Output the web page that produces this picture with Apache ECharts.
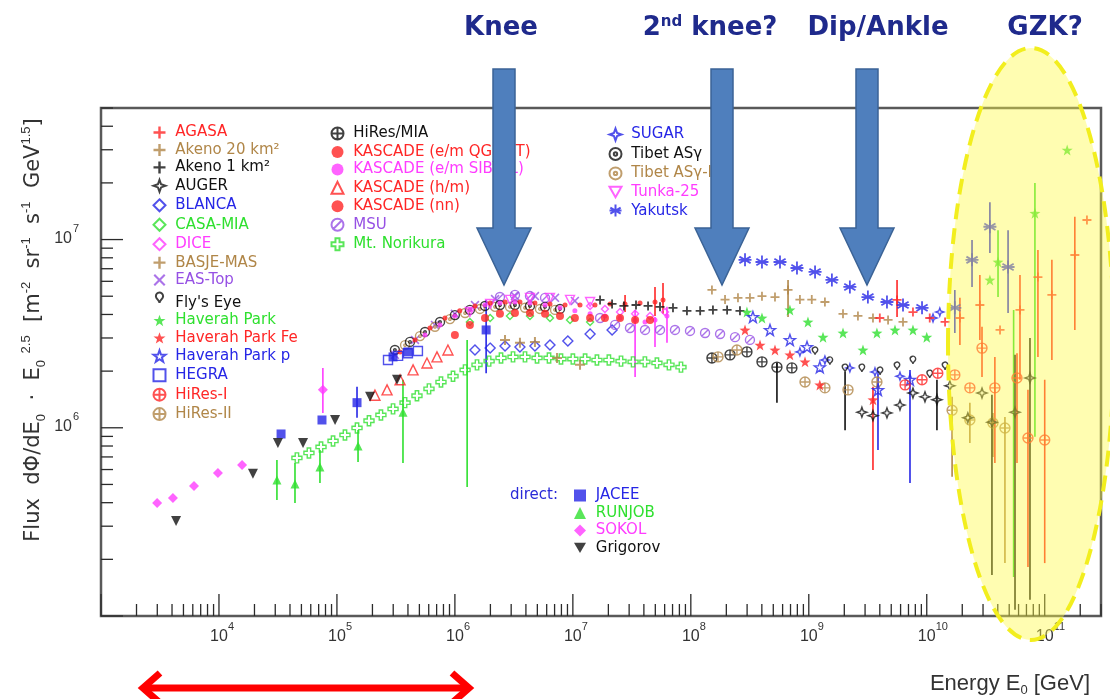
<!DOCTYPE html>
<html>
<head>
<meta charset="utf-8">
<script src="https://cdn.jsdelivr.net/npm/echarts@6/dist/echarts.min.js"></script>
<style>
  html, body { margin: 0; background: #fff; }
  #chart { width: 1110px; height: 699px; }
</style>
</head>
<body>
<div id="chart"></div>
<script>
// axis ranges and tick labels
const X_MIN = 1e3, X_MAX = 3e11, Y_MIN = 1e5, Y_MAX = 5e7;
const xMajorTicks = [1e3, 1e4, 1e5, 1e6, 1e7, 1e8, 1e9, 1e10, 1e11];
const xLabelValues = [1e4, 1e5, 1e6, 1e7, 1e8, 1e9, 1e10, 1e11];
const xLabelExps = ['4', '5', '6', '7', '8', '9', '10', '11'];
const yMajorTicks = [1e5, 1e6, 1e7];
const yLabelValues = [1e6, 1e7];
const yLabelExps = ['6', '7'];

// data: [E (GeV), flux*E^2.5]; errors: [E, low, high]
const agasa = [[4.0e9,3.83e6],[5.6e9,4.78e6],[7.64e9,4.12e6],[1.06e10,3.83e6],[1.43e10,3.65e6],[1.91e10,3.83e6],[2.82e10,4.49e6],[4.18e10,3.31e6],[6.17e10,4.23e6],[8.76e10,6.32e6],[1.15e11,5.08e6],[1.8e11,8.28e6],[2.28e11,1.27e7]];
const agasaErr = [[5.6e9,3.88e6,6.1e6],[1.91e10,2.75e6,4.9e6],[2.82e10,2.93e6,6.49e6],[6.17e10,1.8e6,6.49e6],[8.76e10,2.38e6,8.81e6],[1.15e11,2.29e6,7.8e6],[1.8e11,3.31e6,1.32e7]];
const akeno20 = [[1.51e8,5.4e6],[1.95e8,4.8e6],[2.51e8,4.9e6],[3.17e8,4.9e6],[4.01e8,5.0e6],[5.17e8,4.95e6],[6.67e8,5.4e6],[8.41e8,4.8e6],[1.06e9,4.8e6],[1.37e9,4.66e6],[1.95e9,4.03e6],[2.61e9,3.93e6],[3.5e9,3.83e6],[4.7e9,3.74e6],[6.29e9,3.65e6]];
const akeno20Err = [[6.67e8,3.88e6,6.1e6]];
const akeno1 = [[1.7e7,4.78e6],[2.15e7,4.55e6],[2.71e7,4.44e6],[3.43e7,4.49e6],[4.34e7,4.44e6],[5.48e7,4.39e6],[7.06e7,4.34e6],[9.27e7,4.18e6],[1.2e8,4.18e6],[1.54e8,4.23e6],[2.03e8,4.23e6],[2.61e8,4.18e6]];
const auger = [[2.82e9,1.21e6],[3.5e9,1.16e6],[4.6e9,1.2e6],[5.93e9,1.32e6],[7.64e9,1.53e6],[9.66e9,1.46e6],[1.22e10,1.41e6],[1.57e10,1.67e6],[2.23e10,1.13e6],[2.94e10,1.53e6],[3.57e10,1.07e6],[5.6e10,1.21e6],[7.5e10,1.84e6]];
const augerErr = [[1.22e10,9.7e5,1.8e6],[3.57e10,1.65e5,1.5e6],[5.6e10,1.08e5,2.44e6],[7.5e10,1.22e5,3.0e6]];
const blanca = [[1.48e6,2.59e6],[1.99e6,2.65e6],[2.66e6,2.72e6],[3.56e6,2.69e6],[4.77e6,2.72e6],[6.4e6,2.75e6],[9.07e6,2.89e6],[1.4e7,3.15e6],[2.15e7,3.31e6]];
const casaMia = [[1.34e6,3.65e6],[1.99e6,3.83e6],[2.93e6,3.93e6],[4.33e6,3.93e6],[6.4e6,3.83e6],[9.46e6,3.74e6],[1.4e7,3.65e6]];
const dice = [[1.4e7,4.44e6],[1.87e7,4.28e6],[2.51e7,4.12e6],[3.37e7,4.03e6],[4.51e7,3.93e6],[6.04e7,4.12e6]];
const diceErr = [[3.37e7,1.86e6,4.23e6]];
const basje = [[2.66e6,2.93e6],[3.56e6,2.83e6],[4.77e6,2.86e6],[7.34e6,2.35e6],[1.15e7,2.16e6]];
const easTop = [[3.1e5,2.44e6],[4.59e5,2.93e6],[6.78e5,3.52e6],[1.0e6,4.03e6],[1.48e6,4.49e6],[2.19e6,4.83e6],[3.23e6,5.01e6],[4.77e6,5.01e6],[7.06e6,4.9e6],[1.04e7,4.72e6]];
const flysEye = [[1.13e9,2.44e6],[1.51e9,2.16e6],[2.03e9,1.98e6],[2.82e9,1.98e6],[4.02e9,1.91e6],[5.6e9,2.03e6],[7.64e9,2.18e6],[1.06e10,1.84e6],[1.43e10,2.03e6]];
const flysEyeErr = [[2.03e9,9.7e5,1.98e6]];
const haverah = [[2.99e8,4.12e6],[4.01e8,3.83e6],[6.92e8,4.23e6],[9.84e8,3.65e6],[1.32e9,3.03e6],[1.95e9,3.19e6],[2.88e9,2.59e6],[3.78e9,3.19e6],[5.38e9,3.31e6],[7.64e9,3.31e6],[1.0e10,3.03e6],[3.43e10,6.1e6],[4.02e10,7.6e6],[8.26e10,1.38e7],[1.55e11,2.99e7]];
const haverahErr = [[4.02e10,4.95e6,1.12e7],[5.45e10,1.61e5,4.23e6],[8.26e10,8.96e5,2.0e7]];
const haverahFe = [[2.88e8,3.31e6],[3.86e8,2.75e6],[5.17e8,2.59e6],[6.92e8,2.44e6],[9.29e8,2.24e6],[1.24e9,1.69e6],[3.5e9,1.41e6]];
const haverahFeErr = [[3.5e9,5.97e5,1.65e6]];
const haverahP = [[3.36e8,3.88e6],[4.69e8,3.31e6],[6.92e8,2.93e6],[9.66e8,2.69e6],[1.24e9,2.1e6],[3.86e9,1.59e6],[7.21e9,1.8e6]];
const haverahPErr = [[3.86e9,7.62e5,1.95e6],[7.21e9,5.09e5,2.03e6]];
const hegra = [[2.71e5,2.29e6],[3.3e5,2.41e6],[4.0e5,2.49e6],[4.86e5,2.56e6]];
const hiRes1 = [[6.55e9,1.69e6],[9.12e9,1.8e6],[1.24e10,1.95e6],[1.73e10,1.91e6],[2.32e10,1.63e6],[2.94e10,2.65e6],[3.78e10,1.63e6],[5.82e10,1.84e6],[7.21e10,8.83e5],[1.0e11,8.61e5]];
const hiRes1Err = [[2.94e10,1.86e6,3.44e6],[3.78e10,6.5e5,2.38e6],[5.82e10,6.5e5,2.49e6],[7.21e10,1.82e5,1.59e6],[1.0e11,1.91e5,1.8e6]];
const hiRes2 = [[1.7e8,2.38e6],[2.46e8,2.59e6],[9.29e8,1.75e6],[1.37e9,1.63e6],[2.15e9,1.59e6],[3.78e9,1.75e6],[1.64e10,1.24e6],[2.32e10,1.1e6],[3.64e10,1.06e6],[4.6e10,9.98e5]];
const hiRes2Err = [[1.64e10,5.5e5,1.46e6],[2.32e10,8.3e5,1.36e6],[3.64e10,7.0e5,1.2e6],[4.6e10,1.91e5,1.14e6]];
const hiResMia = [[1.51e8,2.35e6],[2.15e8,2.44e6],[2.99e8,2.53e6],[4.01e8,2.24e6],[5.37e8,2.1e6],[7.19e8,2.08e6]];
const hiResMiaErr = [[5.37e8,1.36e6,2.21e6]];
const kascadeQgs = [[3.43e5,2.53e6],[4.59e5,2.93e6],[6.15e5,3.39e6],[8.24e5,3.83e6],[1.1e6,4.18e6],[1.48e6,4.44e6],[1.99e6,4.6e6],[2.66e6,4.66e6],[3.56e6,4.66e6],[4.77e6,4.6e6],[6.4e6,4.55e6],[8.58e6,4.49e6],[1.15e7,4.49e6],[1.54e7,4.49e6],[2.07e7,4.55e6],[2.77e7,4.55e6],[3.71e7,4.6e6],[4.97e7,4.66e6],[5.81e7,4.78e6]];
const kascadeQgsErr = [[2.77e7,4.12e6,5.08e6],[4.97e7,3.93e6,5.6e6],[5.81e7,4.03e6,5.87e6]];
const kascadeSib = [[5.58e5,3.11e6],[7.48e5,3.52e6],[1.0e6,3.93e6],[1.34e6,4.23e6],[1.8e6,4.49e6],[2.41e6,4.6e6],[3.23e6,4.66e6],[4.33e6,4.6e6],[5.81e6,4.49e6],[7.78e6,4.34e6],[1.04e7,4.18e6],[1.4e7,4.03e6],[1.87e7,3.93e6],[2.51e7,3.83e6],[3.37e7,3.74e6],[4.09e7,3.65e6],[4.97e7,3.74e6],[6.28e7,3.93e6]];
const kascadeSibErr = [[4.97e7,2.69e6,3.88e6],[6.28e7,2.83e6,4.39e6]];
const kascadeHm = [[2.1e5,1.49e6],[2.66e5,1.59e6],[3.43e5,1.8e6],[4.42e5,2.03e6],[5.8e5,2.21e6],[7.05e5,2.38e6],[8.73e5,2.59e6]];
const kascadeNn = [[1.0e6,3.11e6],[1.34e6,3.52e6],[1.8e6,3.83e6],[2.41e6,4.03e6],[3.23e6,4.07e6],[4.33e6,4.07e6],[5.81e6,4.03e6],[7.78e6,3.93e6],[1.04e7,3.83e6],[1.4e7,3.83e6],[1.87e7,3.83e6],[2.51e7,3.83e6],[3.37e7,3.74e6],[4.51e7,3.74e6]];
const msu = [[2.41e6,4.95e6],[3.23e6,5.08e6],[4.33e6,5.01e6],[5.81e6,4.9e6],[1.7e7,3.83e6],[2.28e7,3.52e6],[3.05e7,3.39e6],[4.09e7,3.31e6],[5.48e7,3.31e6],[7.34e7,3.31e6],[9.84e7,3.27e6],[1.32e8,3.19e6],[1.77e8,3.15e6],[2.37e8,3.03e6],[3.17e8,2.93e6]];
const norikura = [[4.58e4,6.92e5],[5.79e4,7.35e5],[7.33e4,7.91e5],[9.27e4,8.51e5],[1.17e5,9.16e5],[1.48e5,9.98e5],[1.87e5,1.09e6],[2.36e5,1.17e6],[2.99e5,1.26e6],[3.78e5,1.36e6],[4.77e5,1.48e6],[6.03e5,1.61e6],[7.62e5,1.75e6],[9.64e5,1.88e6],[1.22e6,2.03e6],[1.54e6,2.16e6],[1.95e6,2.26e6],[2.46e6,2.35e6],[3.11e6,2.38e6],[3.93e6,2.38e6],[4.97e6,2.35e6],[6.28e6,2.35e6],[7.93e6,2.32e6],[1.0e7,2.32e6],[1.27e7,2.32e6],[1.6e7,2.29e6],[2.02e7,2.29e6],[2.56e7,2.26e6],[3.24e7,2.24e6],[4.08e7,2.24e6],[5.16e7,2.21e6],[6.53e7,2.16e6],[8.25e7,2.1e6]];
const sugar = [[8.41e8,2.53e6],[1.37e9,2.29e6],[2.23e9,2.08e6],[3.64e9,1.98e6],[5.93e9,1.88e6],[1.13e10,3.83e6],[1.29e10,4.12e6]];
const tibet = [[3.1e5,2.59e6],[4.16e5,2.86e6],[5.58e5,3.23e6],[7.48e5,3.65e6],[1.0e6,3.97e6],[1.34e6,4.23e6],[1.8e6,4.44e6],[2.41e6,4.49e6],[3.23e6,4.49e6],[4.33e6,4.44e6],[5.81e6,4.39e6],[7.78e6,4.28e6]];
const tibet3 = [[3.78e5,2.75e6],[5.06e5,3.07e6],[6.78e5,3.44e6],[9.08e5,3.78e6],[1.22e6,4.07e6],[1.63e6,4.28e6],[2.19e6,4.39e6],[2.93e6,4.39e6],[3.93e6,4.34e6],[5.26e6,4.28e6],[7.06e6,4.23e6]];
const tunka = [[1.34e6,4.12e6],[1.99e6,4.55e6],[2.93e6,4.78e6],[4.33e6,4.9e6],[6.4e6,4.9e6],[9.46e6,4.78e6],[1.4e7,4.66e6]];
const yakutsk = [[2.88e8,7.8e6],[4.01e8,7.6e6],[5.7e8,7.6e6],[7.94e8,7.06e6],[1.13e9,6.73e6],[1.57e9,6.1e6],[2.23e9,5.6e6],[3.17e9,4.95e6],[4.6e9,4.66e6],[6.29e9,4.49e6],[9.12e9,4.34e6],[1.73e10,4.34e6],[2.42e10,7.8e6],[3.43e10,1.17e7],[4.89e10,7.15e6]];
const yakutskErr = [[1.73e10,3.19e6,5.4e6],[2.42e10,5.6e6,9.95e6],[3.43e10,8.49e6,1.58e7],[4.89e10,4.07e6,1.12e7]];
// direct measurements
const jacee = [[3.36e4,9.27e5],[7.47e4,1.1e6],[1.48e5,1.36e6],[2.99e5,2.38e6],[4.0e5,2.53e6],[1.84e6,3.31e6]];
const jaceeErr = [[1.48e5,1.13e6,1.65e6],[1.84e6,1.95e6,4.78e6]];
const runjob = [[3.1e4,5.28e5],[4.41e4,5.03e5],[7.18e4,6.19e5],[1.51e5,8.0e5],[3.63e5,1.21e6]];
const runjobErr = [[3.1e4,4.13e5,6.75e5],[4.41e4,3.98e5,6.5e5],[7.18e4,5.09e5,7.62e5],[1.51e5,6.58e5,9.73e5],[3.63e5,6.5e5,1.8e6],[1.27e6,4.84e5,2.93e6]];
const sokol = [[2.99e3,3.98e5],[4.07e3,4.24e5],[6.14e3,4.9e5],[9.8e3,5.75e5],[1.57e4,6.34e5],[7.6e4,1.59e6]];
const sokolErr = [[7.6e4,1.2e6,2.08e6]];
const grigorov = [[4.33e3,3.2e5],[1.94e4,5.7e5],[3.16e4,8.3e5],[5.16e4,8.3e5],[9.64e4,1.1e6],[1.91e5,1.46e6],[3.23e5,1.8e6]];

// legend columns
const legendCol1 = ['AGASA', 'Akeno 20 km²', 'Akeno 1 km²', 'AUGER', 'BLANCA', 'CASA-MIA', 'DICE', 'BASJE-MAS', 'EAS-Top', "Fly's Eye", 'Haverah Park', 'Haverah Park Fe', 'Haverah Park p', 'HEGRA', 'HiRes-I', 'HiRes-II'];
const legendCol2 = ['HiRes/MIA', 'KASCADE (e/m QGSJET)', 'KASCADE (e/m SIBYLL)', 'KASCADE (h/m)', 'KASCADE (nn)', 'MSU', 'Mt. Norikura'];
const legendCol3 = ['SUGAR', 'Tibet ASγ', 'Tibet ASγ-III', 'Tunka-25', 'Yakutsk'];
const legendDirect = ['JACEE', 'RUNJOB', 'SOKOL', 'Grigorov'];

const RED = '#ff2626', TAN = '#b08648', BLACK = '#111111', BLUE = '#2626e6',
      GREEN = '#2fe02f', MAGENTA = '#ff3cff', PURPLE = '#9650e4';

const symbols = {
  plus: 'path://M-1,-5H1V-1H5V1H1V5H-1V1H-5V-1H-1Z',
  cross: 'path://M-4,-3L-3,-4L0,-1L3,-4L4,-3L1,0L4,3L3,4L0,1L-3,4L-4,3L-1,0Z',
  ringCross: 'path://M0,-5A5,5,0,1,1,0,5A5,5,0,1,1,0,-5ZM0,-5L0,5M-5,0L5,0',
  ringDot: 'path://M0,-5A5,5,0,1,1,0,5A5,5,0,1,1,0,-5ZM0,-1.4A1.4,1.4,0,1,1,0,1.4A1.4,1.4,0,1,1,0,-1.4Z',
  ringSlash: 'path://M0,-5A5,5,0,1,1,0,5A5,5,0,1,1,0,-5ZM-3.5,3.5L3.5,-3.5',
  star: 'path://M0,-5L1.18,-1.62L4.76,-1.55L1.9,0.62L2.94,4.05L0,2L-2.94,4.05L-1.9,0.62L-4.76,-1.55L-1.18,-1.62Z',
  star4: 'path://M0,-5L1.3,-1.3L5,0L1.3,1.3L0,5L-1.3,1.3L-5,0L-1.3,-1.3Z',
  openCross: 'path://M-1.7,-5H1.7V-1.7H5V1.7H1.7V5H-1.7V1.7H-5V-1.7H-1.7Z',
  triDown: 'path://M-5,-4L5,-4L0,4.6Z',
  asterisk: 'path://M0,-5L0,5M-4.3,-2.5L4.3,2.5M-4.3,2.5L4.3,-2.5M-5,0L5,0',
  circle: 'circle', rect: 'rect', triangle: 'triangle', diamond: 'diamond', pin: 'pin'
};

// name, data, errors, symbol, colour, open, size  (drawing order)
const seriesStyles = [
  ['Mt. Norikura', norikura, null, 'openCross', GREEN, true, 10],
  ['BLANCA', blanca, null, 'diamond', BLUE, true, 10],
  ['CASA-MIA', casaMia, null, 'diamond', GREEN, true, 7],
  ['MSU', msu, null, 'ringSlash', PURPLE, true, 9],
  ['EAS-Top', easTop, null, 'cross', PURPLE, false, 9],
  ['Tibet ASγ-III', tibet3, null, 'ringDot', TAN, true, 9],
  ['Tibet ASγ', tibet, null, 'ringDot', BLACK, true, 9],
  ['Tunka-25', tunka, null, 'triDown', MAGENTA, true, 9],
  ['BASJE-MAS', basje, null, 'plus', TAN, false, 10],
  ['DICE', dice, diceErr, 'diamond', MAGENTA, true, 7],
  ['KASCADE (e/m SIBYLL)', kascadeSib, kascadeSibErr, 'circle', MAGENTA, false, 5],
  ['KASCADE (nn)', kascadeNn, null, 'circle', RED, false, 8],
  ['KASCADE (e/m QGSJET)', kascadeQgs, kascadeQgsErr, 'circle', RED, false, 5],
  ['KASCADE (h/m)', kascadeHm, null, 'triangle', RED, true, 10],
  ['HEGRA', hegra, null, 'rect', BLUE, true, 9],
  ['Akeno 1 km²', akeno1, null, 'plus', BLACK, false, 9],
  ['Akeno 20 km²', akeno20, akeno20Err, 'plus', TAN, false, 9],
  ['HiRes/MIA', hiResMia, hiResMiaErr, 'ringCross', BLACK, true, 10],
  ['HiRes-II', hiRes2, hiRes2Err, 'ringCross', TAN, true, 10],
  ['Yakutsk', yakutsk, yakutskErr, 'asterisk', BLUE, true, 13],
  ['Haverah Park', haverah, haverahErr, 'star', GREEN, false, 11],
  ['Haverah Park Fe', haverahFe, haverahFeErr, 'star', RED, false, 11],
  ['Haverah Park p', haverahP, haverahPErr, 'star', BLUE, true, 11],
  ['SUGAR', sugar, null, 'star4', BLUE, true, 8],
  ["Fly's Eye", flysEye, flysEyeErr, 'pin', BLACK, true, 9],
  ['AUGER', auger, augerErr, 'star4', BLACK, true, 10],
  ['HiRes-I', hiRes1, hiRes1Err, 'ringCross', RED, true, 10],
  ['AGASA', agasa, agasaErr, 'plus', RED, false, 9],
  ['JACEE', jacee, jaceeErr, 'rect', BLUE, false, 9],
  ['RUNJOB', runjob, runjobErr, 'triangle', GREEN, false, 9],
  ['SOKOL', sokol, sokolErr, 'diamond', MAGENTA, false, 10],
  ['Grigorov', grigorov, null, 'triDown', BLACK, false, 10]
];

const colorOf = {};
seriesStyles.forEach(s => { colorOf[s[0]] = s[4]; });

function minorTicks(lo, hi) {
  const out = [];
  for (let d = lo; d < hi; d *= 10) {
    for (let k = 2; k <= 9; k++) {
      if (k * d <= hi * 1.0001) out.push(k * d);
    }
  }
  return out;
}

function tickSeries(values, axis, len) {
  return {
    type: 'custom', silent: true, z: 5,
    data: values.map(v => axis === 'x' ? [v, Y_MIN] : [X_MIN, v]),
    renderItem: (params, api) => {
      const c = api.coord([api.value(0), api.value(1)]);
      const shape = axis === 'x'
        ? { x1: c[0], y1: c[1], x2: c[0], y2: c[1] - len }
        : { x1: c[0], y1: c[1], x2: c[0] + len, y2: c[1] };
      return { type: 'line', shape: shape, style: { stroke: '#2a2a2a', lineWidth: 1.3 } };
    }
  };
}

function labelSeries(values, exps, axis) {
  return {
    type: 'custom', silent: true, z: 5,
    data: values.map(v => axis === 'x' ? [v, Y_MIN] : [X_MIN, v]),
    renderItem: (params, api) => {
      const c = api.coord([api.value(0), api.value(1)]);
      const exp = exps[params.dataIndex];
      const font = { fontFamily: 'Liberation Sans', fill: '#333' };
      if (axis === 'x') {
        return { type: 'group', children: [
          { type: 'text', x: c[0], y: c[1] + 21, style: Object.assign({ text: '10', fontSize: 16, align: 'center', verticalAlign: 'middle' }, font) },
          { type: 'text', x: c[0] + 9, y: c[1] + 11, style: Object.assign({ text: exp, fontSize: 11, align: 'left', verticalAlign: 'middle' }, font) }
        ] };
      }
      return { type: 'group', children: [
        { type: 'text', x: c[0] - 29, y: c[1] - 1, style: Object.assign({ text: '10', fontSize: 16, align: 'right', verticalAlign: 'middle' }, font) },
        { type: 'text', x: c[0] - 28, y: c[1] - 11, style: Object.assign({ text: exp, fontSize: 11, align: 'left', verticalAlign: 'middle' }, font) }
      ] };
    }
  };
}

function errorSeries(name, arr, color) {
  return {
    type: 'custom', name: name + ' err', silent: true, z: 2,
    data: arr, encode: { x: 0, y: [1, 2] },
    renderItem: (params, api) => {
      const a = api.coord([api.value(0), api.value(1)]);
      const b = api.coord([api.value(0), api.value(2)]);
      return { type: 'line', shape: { x1: a[0], y1: a[1], x2: b[0], y2: b[1] }, style: { stroke: color, lineWidth: 1.6 } };
    }
  };
}

const series = [];
seriesStyles.forEach(([name, data, err, sym, color, open, size]) => {
  if (err) series.push(errorSeries(name, err, color));
});
seriesStyles.forEach(([name, data, err, sym, color, open, size]) => {
  series.push({
    type: 'scatter', name: name, data: data, z: 3,
    symbol: symbols[sym], symbolSize: size,
    itemStyle: open
      ? { color: 'none', borderColor: color, borderWidth: name === 'Yakutsk' ? 1.8 : 1.4 }
      : { color: color, borderColor: color, borderWidth: 0 },
    emphasis: { disabled: true }
  });
});
series.push(tickSeries(xMajorTicks, 'x', 22));
series.push(tickSeries(minorTicks(X_MIN, X_MAX), 'x', 12));
series.push(tickSeries(yMajorTicks, 'y', 22));
series.push(tickSeries(minorTicks(Y_MIN, Y_MAX), 'y', 12));
series.push(labelSeries(xLabelValues, xLabelExps, 'x'));
series.push(labelSeries(yLabelValues, yLabelExps, 'y'));

const legendBase = {
  orient: 'vertical', padding: 0, itemWidth: 12, itemHeight: 12, itemGap: 2.45,
  selectedMode: false, formatter: ' {name}',
  textStyle: { fontSize: 15, lineHeight: 14, fontFamily: 'DejaVu Sans' }
};
function legendData(names) {
  return names.map(n => ({ name: n, textStyle: { color: colorOf[n] } }));
}

function blueArrow(cx) {
  return {
    type: 'polygon', z: 100,
    shape: { points: [[cx - 11, 69], [cx + 11, 69], [cx + 11, 228], [cx + 27, 228], [cx, 285], [cx - 27, 228], [cx - 11, 228]] },
    style: { fill: '#4f7fbd', stroke: '#3b6396', lineWidth: 1.5 }
  };
}
const headFont = { fontFamily: 'DejaVu Sans', fontWeight: 'bold', fontSize: 26, fill: '#1f2a8c', align: 'center', verticalAlign: 'middle' };

const chart = echarts.init(document.getElementById('chart'), null, { renderer: 'canvas' });
chart.setOption({
  animation: false,
  backgroundColor: '#ffffff',
  textStyle: { fontFamily: 'Liberation Sans' },
  grid: { left: 101, right: 9, top: 108, bottom: 83, show: true, borderColor: '#595959', borderWidth: 2.5, backgroundColor: 'transparent' },
  xAxis: { type: 'log', logBase: 10, min: X_MIN, max: X_MAX, axisLine: { show: false }, axisTick: { show: false }, axisLabel: { show: false }, splitLine: { show: false } },
  yAxis: { type: 'log', logBase: 10, min: Y_MIN, max: Y_MAX, axisLine: { show: false }, axisTick: { show: false }, axisLabel: { show: false }, splitLine: { show: false } },
  legend: [
    Object.assign({}, legendBase, { left: 151, top: 125, data: legendData(legendCol1) }),
    Object.assign({}, legendBase, { left: 329, top: 125, data: legendData(legendCol2) }),
    Object.assign({}, legendBase, { left: 607, top: 126, data: legendData(legendCol3) }),
    Object.assign({}, legendBase, { left: 574, top: 488, data: legendData(legendDirect) })
  ],
  series: series,
  graphic: { elements: [
    { type: 'text', x: 510, y: 495, z: 50, style: { text: 'direct:', fontSize: 15, fontFamily: 'DejaVu Sans', fill: '#2a2ad8', align: 'left', verticalAlign: 'middle' } },
    { type: 'text', x: 34, y: 330, rotation: Math.PI / 2, z: 50, style: {
      text: 'Flux  dΦ/dE{sub|0}  ·  E{sub|0} {sup|2.5}  [m{sup|-2}  sr{sup|-1}  s{sup|-1}  GeV{sup|1.5}]',
      fontSize: 21, fontFamily: 'DejaVu Sans', fill: '#333', align: 'center', verticalAlign: 'middle', lineHeight: 28,
      rich: { sub: { fontSize: 13, verticalAlign: 'bottom', lineHeight: 28 }, sup: { fontSize: 13, verticalAlign: 'top', lineHeight: 28 } }
    } },
    { type: 'text', x: 1090, y: 684, z: 50, style: {
      text: 'Energy E{sub|0} [GeV]', fontSize: 22, fontFamily: 'Liberation Sans', fill: '#333', align: 'right', verticalAlign: 'middle', lineHeight: 26,
      rich: { sub: { fontSize: 13, verticalAlign: 'bottom', lineHeight: 26 } }
    } },
    { type: 'ellipse', z: 90, shape: { cx: 1031, cy: 344, rx: 83, ry: 296 },
      style: { fill: 'rgba(255,250,70,0.42)', stroke: '#f2ee1e', lineWidth: 4, lineDash: [16, 9] } },
    blueArrow(504), blueArrow(722), blueArrow(867),
    { type: 'text', x: 501, y: 28, z: 100, style: Object.assign({ text: 'Knee' }, headFont) },
    { type: 'text', x: 710, y: 28, z: 100, style: Object.assign({ text: '2{sup|nd} knee?', rich: { sup: { fontSize: 15, verticalAlign: 'top', fontWeight: 'bold', fontFamily: 'DejaVu Sans', fill: '#1f2a8c' } } }, headFont) },
    { type: 'text', x: 878, y: 28, z: 100, style: Object.assign({ text: 'Dip/Ankle' }, headFont) },
    { type: 'text', x: 1045, y: 28, z: 100, style: Object.assign({ text: 'GZK?' }, headFont) },
    { type: 'polyline', z: 100, shape: { points: [[144, 688], [468, 688]] }, style: { stroke: '#ff0000', lineWidth: 7 } },
    { type: 'polyline', z: 100, shape: { points: [[160, 673], [143, 688], [160, 703]] }, style: { stroke: '#ff0000', lineWidth: 7, fill: null } },
    { type: 'polyline', z: 100, shape: { points: [[452, 673], [469, 688], [452, 703]] }, style: { stroke: '#ff0000', lineWidth: 7, fill: null } }
  ] }
});
</script>
</body>
</html>
